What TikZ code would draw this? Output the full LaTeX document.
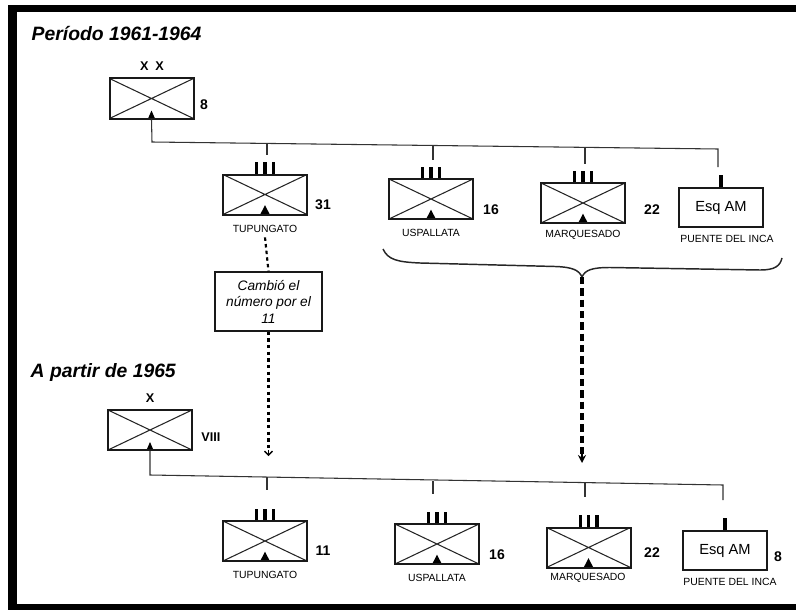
\documentclass[tikz,border=0pt]{standalone}
\usepackage{fontspec}
\setmainfont{Liberation Sans}
\usetikzlibrary{arrows.meta,calc}
\begin{document}
\begin{tikzpicture}[x=0.75pt,y=-0.75pt,
  unitbox/.style={draw=black!90,line width=1.5pt,minimum width=63pt,minimum height=30pt,inner sep=0pt},
  tri/.style={path picture={\draw[line width=0.8pt,black!85]
      (path picture bounding box.north west) -- (path picture bounding box.south east)
      (path picture bounding box.south west) -- (path picture bounding box.north east);
      \fill (path picture bounding box.south) ++(-3.6pt,0) -- ++(3.6pt,7pt) -- ++(3.6pt,-7pt) -- cycle;}},
  smalltri/.style={path picture={\draw[line width=0.8pt,black!85]
      (path picture bounding box.north west) -- (path picture bounding box.south east)
      (path picture bounding box.south west) -- (path picture bounding box.north east);
      \fill (path picture bounding box.south) ++(-2.6pt,0) -- ++(2.6pt,6pt) -- ++(2.6pt,-6pt) -- cycle;}},
  esqbox/.style={draw=black!90,line width=1.5pt,minimum width=63pt,minimum height=29pt,inner sep=0pt,
    font=\fontsize{11}{13}\selectfont},
  place/.style={font=\fontsize{7.8}{9}\selectfont},
  num/.style={font=\bfseries\fontsize{10.5}{12}\selectfont},
  echelon/.style={font=\bfseries\fontsize{9.5}{11}\selectfont},
  title/.style={font=\bfseries\itshape\fontsize{14.5}{16}\selectfont,anchor=base west},
  bus/.style={line width=0.8pt,black!80},
  bar/.style={line width=2.6pt,black},
  note/.style={draw=black!90,line width=1.1pt,minimum width=80pt,minimum height=44pt,inner sep=1pt,
    align=center,font=\itshape\fontsize{10.3}{12.4}\selectfont},
]
\useasboundingbox (0,0) rectangle (796,610);
% frame bands
\fill (8,5) rectangle (796,12.5);
\fill (8,5) rectangle (16.5,610);
\fill (8,603.5) rectangle (796,610);

% titles
\node[title] (ttop) at (27,40.5) {Período 1961-1964};
\node[title] (tbot) at (26,377) {A partir de 1965};

% ---------- top period ----------
\node[unitbox,smalltri] (R0) at (151.5,98.5) {};
\node[echelon] (R0e) at (152,66) {X\hspace{5pt}X};
\node[num] (R0n) at (204,105) {8};

\node[unitbox,tri] (T1) at (265,194.5) {};
\node[unitbox,tri] (U1) at (431,199) {};
\node[unitbox,tri] (M1) at (583,203) {};
\node[esqbox] (E1) at (721,207.5) {Esq AM};

\node[num] (T1n) at (323,205) {31};
\node[num] (U1n) at (491,210) {16};
\node[num] (M1n) at (652,210) {22};

\node[place] (T1l) at (265,229) {TUPUNGATO};
\node[place] (U1l) at (431,233) {USPALLATA};
\node[place] (M1l) at (583,235) {MARQUESADO};
\node[place] (E1l) at (727,239) {PUENTE DEL INCA};

% top bus
\coordinate (b0) at (152,142);
\coordinate (b1) at (718,149);
\coordinate (b1e) at (718,167);
\draw[bus] (R0.south) -- (b0) -- (b1) -- (b1e);
\draw[bus] (267,143.4) -- (267,155);
\draw[bus] (433,145.5) -- (433,160);
\draw[bus] (585,147.4) -- (585,164);

% ---------- bottom period ----------
\node[unitbox,smalltri] (R1) at (150,430) {};
\node[echelon] (R1e) at (150,398) {X};
\node[echelon] (R1n) at (211,437) {VIII};

\node[unitbox,tri] (T2) at (265,541) {};
\node[unitbox,tri] (U2) at (437,544) {};
\node[unitbox,tri] (M2) at (588.5,547.5) {};
\node[esqbox] (E2) at (725,550.5) {Esq AM};

\node[num] (T2n) at (323,551) {11};
\node[num] (U2n) at (497,555) {16};
\node[num] (M2n) at (652,553) {22};
\node[num] (E2n) at (778,557) {8};

\node[place] (T2l) at (265,575) {TUPUNGATO};
\node[place] (U2l) at (437,578) {USPALLATA};
\node[place] (M2l) at (588,578) {MARQUESADO};
\node[place] (E2l) at (730,582) {PUENTE DEL INCA};

\coordinate (c0) at (150,475);
\coordinate (c1) at (723,485);
\coordinate (c1e) at (723,500);
\draw[bus] (R1.south) -- (c0) -- (c1) -- (c1e);
\draw[bus] (267,477) -- (267,490);
\draw[bus] (433,481) -- (433,494);
\draw[bus] (585,483) -- (585,497);

% echelon bars (III and I)
\foreach \n in {T1,U1,M1,T2,U2,M2}{
  \foreach \dx in {-6.2,0,6.2}{
    \draw[bar] ([xshift=\dx pt]\n.north) -- ++(0pt,8.4pt);
  }
}
\foreach \n in {E1,E2}{
  \draw[bar] (\n.north) -- ++(0pt,9.5pt);
}

% ---------- note box and dotted link ----------
\node[note] (C) at (268.5,301.5) {Cambió el\\número por el\\11};
\draw[line width=1.6pt,dash pattern=on 2.6pt off 2.4pt] (T1l.south) -- (C.north);
\coordinate (Cend) at (268.5,456);
\draw[line width=1.6pt,dash pattern=on 2.6pt off 2.4pt] (C.south) -- ($(Cend)+(0,-5)$);
\draw[line width=1pt,-{Straight Barb[length=3pt,width=6pt]}] ($(Cend)+(0,-6)$) -- (Cend);

% ---------- brace and thick dashed arrow ----------
\coordinate (btip) at (582,277);
\draw[line width=1.1pt,black!85] (383,249) .. controls (388,260) and (398,262) .. (420,263)
   -- (555,266.5) .. controls (572,267) and (579,270) .. (btip)
   .. controls (585,270) and (592,267.5) .. (610,267.5)
   -- (760,270) .. controls (775,270) and (780,266) .. (782,258);
\coordinate (aend) at (582,463);
\draw[line width=2.6pt,dash pattern=on 5.5pt off 3pt] (btip) -- ($(aend)+(0,-8)$);
\draw[line width=1.6pt,-{Stealth[length=6pt,width=6pt]}] ($(aend)+(0,-10)$) -- (aend);

% crosses are drawn by path pictures; unit boxes need them
\end{tikzpicture}
\end{document}
